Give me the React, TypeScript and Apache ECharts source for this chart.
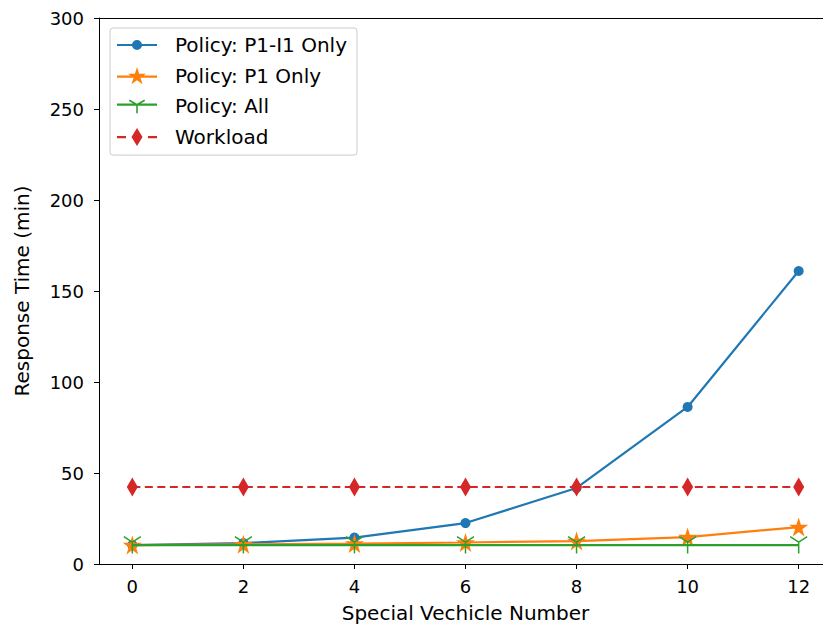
import React, { useEffect, useRef } from "react";
import * as echarts from "echarts";

const xValues = [0, 2, 4, 6, 8, 10, 12];
const p1i1Only = [10.4, 11.5, 14.5, 22.5, 41.8, 86.3, 161];
const p1Only = [10.4, 10.8, 11.2, 11.8, 12.6, 14.8, 20.3];
const policyAll = [10.4, 10.4, 10.4, 10.4, 10.4, 10.4, 10.4];
const workload = [42.3, 42.3, 42.3, 42.3, 42.3, 42.3, 42.3];
const xTicks = [0, 2, 4, 6, 8, 10, 12];
const seriesNames = ["Policy: P1-I1 Only", "Policy: P1 Only", "Policy: All", "Workload"];
const seriesColors = ["#1f77b4", "#ff7f0e", "#2ca02c", "#d62728"];

// marker shapes
const STAR =
  "path://M0,-100 L22.45,-30.9 L95.1,-30.9 L36.3,11.8 L58.8,80.9 L0,38.2 L-58.8,80.9 L-36.3,11.8 L-95.1,-30.9 L-22.45,-30.9 Z";
const TRI_DOWN = "path://M0,0 L0,100 M0,0 L-86.6,-50 M0,0 L86.6,-50";

// legend icons (line + marker) in a 40x20 frame
const LINE = "M0,8.9 L40,8.9 L40,11.1 L0,11.1 Z ";
const ICON_CIRCLE = "path://" + LINE + "M15,10 A5,5 0 1,1 25,10 A5,5 0 1,1 15,10 Z";
const ICON_STAR =
  "path://" +
  LINE +
  "M20,0.5 L22.13,7.06 L29.03,7.06 L23.45,11.12 L25.59,17.69 L20,13.63 L14.41,17.69 L16.55,11.12 L10.97,7.06 L17.87,7.06 Z";
const ICON_TRI =
  "path://" +
  LINE +
  "M19.2,10 L20.8,10 L20.8,18.5 L19.2,18.5 Z " +
  "M20.4,9.3 L19.6,10.7 L11.91,6.27 L12.71,4.88 Z " +
  "M19.6,9.3 L27.29,4.88 L28.09,6.27 L20.4,10.7 Z";
const ICON_DIAMOND =
  "path://M0,8.9 L9,8.9 L9,11.1 L0,11.1 Z M31,8.9 L40,8.9 L40,11.1 L31,11.1 Z M20,1 L25.5,10 L20,19 L14.5,10 Z";
const legendIcons = [ICON_CIRCLE, ICON_STAR, ICON_TRI, ICON_DIAMOND];

const FONT = "DejaVu Sans";

export default function App() {
  const ref = useRef<HTMLDivElement>(null);
  useEffect(() => {
    const chart = echarts.init(ref.current!, undefined, { renderer: "svg" });
    const pairs = (ys: number[]) => xValues.map((x, i) => [x, ys[i]]);
    chart.setOption({
      animation: false,
      backgroundColor: "#ffffff",
      textStyle: { fontFamily: FONT },
      grid: { left: 99, top: 18, bottom: 64, width: 733 },
      legend: {
        orient: "vertical",
        left: 110,
        top: 28,
        padding: [7, 10, 8, 7],
        backgroundColor: "#ffffff",
        borderColor: "#cccccc",
        borderWidth: 1,
        borderRadius: 3,
        itemWidth: 40,
        itemHeight: 20,
        itemGap: 10.7,
        symbolKeepAspect: true,
        textStyle: { fontFamily: FONT, fontSize: 20, color: "#000", padding: [0, 0, 0, 13] },
        data: seriesNames.map((n, i) => ({
          name: n,
          icon: legendIcons[i],
          itemStyle: { color: seriesColors[i], borderWidth: 0 },
        })),
      },
      xAxis: [
        {
          type: "value",
          min: -0.6,
          max: 12.6,
          name: "Special Vechicle Number",
          nameLocation: "middle",
          nameGap: 39,
          nameTextStyle: { fontFamily: FONT, fontSize: 20, color: "#000" },
          axisLine: { show: true, onZero: false, lineStyle: { color: "#000", width: 1 } },
          axisTick: { show: true, length: 5, inside: false, customValues: xTicks, lineStyle: { color: "#000" } },
          axisLabel: { customValues: xTicks, fontFamily: FONT, fontSize: 18, color: "#000", margin: 13 },
          splitLine: { show: false },
        },
        {
          type: "value",
          position: "top",
          min: -0.6,
          max: 12.6,
          axisLine: { show: true, onZero: false, lineStyle: { color: "#000", width: 1 } },
          axisTick: { show: false },
          axisLabel: { show: false },
          splitLine: { show: false },
        },
      ],
      yAxis: {
        type: "value",
        min: 0,
        max: 300,
        interval: 50,
        name: "Response Time (min)",
        nameLocation: "middle",
        nameGap: 67,
        nameTextStyle: { fontFamily: FONT, fontSize: 20, color: "#000" },
        axisLine: { show: true, onZero: false, lineStyle: { color: "#000", width: 1 } },
        axisTick: { show: true, length: 5, lineStyle: { color: "#000" } },
        axisLabel: { fontFamily: FONT, fontSize: 18, color: "#000", margin: 15 },
        splitLine: { show: false },
      },
      series: [
        {
          name: seriesNames[0],
          type: "line",
          data: pairs(p1i1Only),
          symbol: "circle",
          symbolSize: 10,
          lineStyle: { color: seriesColors[0], width: 2.2 },
          itemStyle: { color: seriesColors[0] },
          z: 2,
        },
        {
          name: seriesNames[1],
          type: "line",
          data: pairs(p1Only),
          symbol: STAR,
          symbolSize: 19,
          lineStyle: { color: seriesColors[1], width: 2.2 },
          itemStyle: { color: seriesColors[1] },
          z: 3,
        },
        {
          name: seriesNames[2],
          type: "line",
          data: pairs(policyAll),
          symbol: TRI_DOWN,
          symbolSize: 17,
          lineStyle: { color: seriesColors[2], width: 2.2 },
          itemStyle: { color: "none", borderColor: seriesColors[2], borderWidth: 1.5 },
          z: 4,
        },
        {
          name: seriesNames[3],
          type: "line",
          data: pairs(workload),
          symbol: "diamond",
          symbolSize: [11, 19],
          lineStyle: { color: seriesColors[3], width: 2.2, type: [8, 4.5] },
          itemStyle: { color: seriesColors[3] },
          z: 5,
        },
      ],
    });
    return () => chart.dispose();
  }, []);
  return (
    <div
      style={{ position: "absolute", left: 0, top: 0, width: 823, height: 628, overflow: "hidden" }}
    >
      <div ref={ref} style={{ width: 860, height: 628 }} />
    </div>
  );
}
